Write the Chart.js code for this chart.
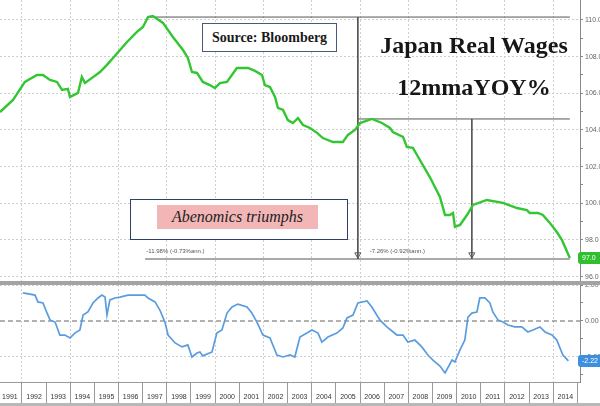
<!DOCTYPE html>
<html>
<head>
<meta charset="utf-8">
<script src="https://cdn.jsdelivr.net/npm/chart.js@4/dist/chart.umd.min.js"></script>
<style>
  body { margin: 0; background: #fff; }
  #wrap { position: relative; width: 600px; height: 406px; overflow: hidden; font-family: "Liberation Serif", serif; }
  canvas { position: absolute; left: 0; }
  #topChart { top: 0; }
  #bottomChart { top: 285px; }
  #sep { position: absolute; left: 0; top: 281px; width: 600px; height: 4px; background: #a3a3a3; }
  #foot { position: absolute; left: 0; top: 403px; width: 600px; height: 3px; background: #b8b8b8; }
  #src { position: absolute; left: 202px; top: 23px; width: 133px; height: 27px; border: 1.5px solid #4b5878; background: #fff;
         font-size: 14px; font-weight: bold; color: #1a1a1a; display: flex; align-items: center; justify-content: center; }
  .title { position: absolute; left: 372px; width: 204px; text-align: center; font-size: 24px; line-height: 24px; font-weight: bold; color: #161616; }
  #abe { position: absolute; left: 130px; top: 199px; width: 216px; height: 39px; border: 1.5px solid #2f4068; background: #fff; }
  #abe span { position: absolute; left: 26px; top: 5px; width: 161px; height: 24px; background: #f3b6b6;
              font-style: italic; font-size: 16px; color: #222; display: flex; align-items: center; justify-content: center; }
</style>
</head>
<body>
<div id="wrap">
  <canvas id="topChart" width="600" height="281"></canvas>
  <div id="sep"></div>
  <canvas id="bottomChart" width="600" height="121"></canvas>
  <div id="foot"></div>
  <div id="src">Source: Bloomberg</div>
  <div class="title" style="top:33px">Japan Real Wages</div>
  <div class="title" style="top:75px">12mmaYOY%</div>
  <div id="abe"><span>Abenomics triumphs</span></div>
</div>
<script>
// real wage index (12m avg)
const wageYears = [1991.09, 1991.63, 1992.12, 1992.62, 1992.87, 1993.16, 1993.45, 1993.66, 1993.90, 1993.99,
  1994.32, 1994.48, 1994.61, 1994.90, 1995.23, 1995.52, 1995.77, 1996.35, 1996.76, 1997.01,
  1997.22, 1997.42, 1997.84, 1998.25, 1998.67, 1998.87, 1999.04, 1999.25, 1999.49, 1999.78,
  1999.99, 2000.20, 2000.49, 2000.90, 2001.36, 2001.65, 2001.94, 2002.06, 2002.27, 2002.48,
  2002.60, 2002.81, 2003.01, 2003.22, 2003.43, 2003.64, 2003.93, 2004.22, 2004.46, 2004.88,
  2005.29, 2005.50, 2005.79, 2006.00, 2006.49, 2006.91, 2007.24, 2007.36, 2007.78, 2007.94,
  2008.19, 2008.48, 2008.89, 2009.31, 2009.52, 2009.72, 2009.85, 2009.93, 2010.14, 2010.43,
  2010.68, 2011.25, 2011.92, 2012.50, 2012.91, 2013.03, 2013.37, 2013.57, 2013.86, 2014.15,
  2014.36, 2014.69];
const wageValues = [104.98, 105.64, 106.62, 107.0, 107.0, 106.73, 106.62, 106.18, 106.24, 105.80,
  106.02, 106.89, 106.56, 106.84, 107.16, 107.55, 107.93, 108.80, 109.35, 109.62,
  110.16, 110.22, 109.84, 109.07, 108.36, 107.93, 107.16, 107.11, 106.62, 106.45,
  106.29, 106.56, 106.62, 107.38, 107.38, 107.22, 107.0, 106.45, 106.34, 105.80,
  105.20, 105.09, 104.54, 104.38, 104.65, 104.27, 104.11, 103.84, 103.56, 103.34,
  103.34, 103.73, 104.0, 104.38, 104.60, 104.38, 104.11, 103.89, 103.62, 103.07,
  103.02, 102.36, 101.43, 100.34, 99.36, 99.36, 99.47, 98.71, 98.82, 99.36,
  99.91, 100.18, 100.02, 99.74, 99.63, 99.47, 99.47, 99.36, 98.93, 98.43,
  98.0, 97.02];

// YoY %
const yoyYears = [1992.04, 1992.54, 1992.66, 1992.87, 1993.04, 1993.16, 1993.37, 1993.57, 1993.78, 1993.99,
  1994.19, 1994.40, 1994.53, 1994.73, 1994.94, 1995.15, 1995.31, 1995.44, 1995.52, 1995.64,
  1995.85, 1996.06, 1996.39, 1996.55, 1996.89, 1997.09, 1997.22, 1997.51, 1997.71, 1997.92,
  1998.05, 1998.34, 1998.63, 1998.87, 1999.04, 1999.25, 1999.37, 1999.49, 1999.87, 2000.07,
  2000.28, 2000.49, 2000.70, 2000.94, 2001.32, 2001.52, 2001.73, 2001.98, 2002.27, 2002.56,
  2002.81, 2003.10, 2003.30, 2003.51, 2003.80, 2004.01, 2004.26, 2004.42, 2004.67, 2005.04,
  2005.29, 2005.46, 2005.71, 2005.91, 2006.29, 2006.49, 2006.82, 2007.11, 2007.53, 2007.78,
  2007.98, 2008.27, 2008.56, 2008.81, 2009.02, 2009.31, 2009.52, 2009.81, 2009.93, 2010.14,
  2010.34, 2010.47, 2010.63, 2010.84, 2010.96, 2011.17, 2011.38, 2011.50, 2011.71, 2011.92,
  2012.12, 2012.41, 2012.70, 2012.95, 2013.16, 2013.45, 2013.66, 2013.95, 2014.15, 2014.40,
  2014.63];
const yoyValues = [1.56, 1.44, 1.06, 1.0, 0.44, 0.06, -0.06, -0.78, -0.78, -0.94,
  -0.67, -0.5, 0.33, 0.5, 1.0, 1.28, 1.44, 1.33, 0.33, 1.17,
  1.28, 1.33, 1.44, 1.44, 1.44, 1.44, 1.28, 1.06, 0.61, -0.06,
  -0.78, -1.22, -1.44, -1.33, -2.0, -1.78, -1.72, -1.94, -1.72, -0.67,
  -0.5, 0.44, 0.78, 0.94, 0.78, 0.44, -0.06, -0.78, -0.94, -1.89,
  -2.0, -1.89, -2.0, -0.89, -0.67, -0.5, -0.67, -1.17, -0.89, -0.67,
  -0.39, 0.17, 0.33, 1.0, 1.11, 0.78, 0.06, -0.33, -0.78, -0.78,
  -1.17, -1.06, -1.44, -1.89, -2.17, -2.5, -2.89, -2.17, -2.28, -1.61,
  -1.06, 0.22, 0.44, 0.5, 1.28, 1.28, 1.0, 0.5, 0.06, -0.06,
  -0.22, -0.33, -0.33, -0.61, -0.5, -0.33, -0.61, -0.78, -1.06, -1.89,
  -2.22];

const yearLabels = [1991, 1992, 1993, 1994, 1995, 1996, 1997, 1998, 1999, 2000, 2001, 2002,
  2003, 2004, 2005, 2006, 2007, 2008, 2009, 2010, 2011, 2012, 2013, 2014];
const gridYears = [1992, 1994, 1996, 1998, 2000, 2002, 2004, 2006, 2008, 2010, 2012, 2014];
const topTicks = [96, 97, 98, 99, 100, 101, 102, 103, 104, 105, 106, 107, 108, 109, 110];
const topTickLabels = [96, 98, 100, 102, 104, 106, 108, 110];
const bottomTicks = [-3, -2, -1, 0, 1, 2];
const bottomTickLabels = [-2, 0, 2];

// drawdown markers
const peakStart = 1997.22, lineEnd = 2014.69, baseStart = 1997.1;
const markerYears = [2005.91, 2010.63];
const peakLevel = 110.16, midLevel = 104.6, baseLevel = 96.96, arrowLevel = 97.2;
const noteTexts = ['-11.98% (-0.73%ann.)', '-7.26% (-0.92%ann.)'];
const noteYears = [1997.15, 2006.4];
const noteLevel = 97.3;

const xMin = 1991.09, xMax = 2015.11;

function pts(xs, ys) { return xs.map((x, i) => ({ x: x, y: ys[i] })); }
function seg(x1, y1, x2, y2) {
  return { data: [{ x: x1, y: y1 }, { x: x2, y: y2 }], borderColor: '#555', borderWidth: 1, pointRadius: 0, fill: false };
}
// keep the plot area full height: no half-label padding on the value axis
function fitY(a) { a.width = 20; a.paddingTop = 0; a.paddingBottom = 0; }

const valueTag = {
  id: 'valueTag',
  afterDatasetsDraw(chart, args, opts) {
    const d = chart.data.datasets[0].data;
    const y = chart.scales.y.getPixelForValue(d[d.length - 1].y);
    const x = chart.chartArea.right - 2;
    const ctx = chart.ctx;
    ctx.save();
    ctx.fillStyle = opts.color;
    ctx.beginPath();
    ctx.roundRect(x, y - 6, 30, 12, 3);
    ctx.fill();
    ctx.fillStyle = '#fff';
    ctx.font = '7px "Liberation Sans"';
    ctx.textBaseline = 'middle';
    ctx.fillText(opts.label, x + 4, y + 0.5);
    ctx.restore();
  }
};

const notes = {
  id: 'notes',
  afterDatasetsDraw(chart) {
    const { ctx, scales: { x, y } } = chart;
    ctx.save();
    ctx.font = '6px "Liberation Sans"';
    ctx.fillStyle = '#555';
    noteTexts.forEach((t, i) => ctx.fillText(t, x.getPixelForValue(noteYears[i]), y.getPixelForValue(noteLevel)));
    ctx.restore();
  }
};

new Chart(document.getElementById('topChart'), {
  type: 'line',
  data: {
    datasets: [
      { data: pts(wageYears, wageValues), borderColor: '#33c633', borderWidth: 2.4, pointRadius: 0, tension: 0 },
      seg(peakStart, peakLevel, lineEnd, peakLevel),
      seg(markerYears[0], peakLevel, markerYears[0], baseLevel),
      seg(markerYears[0], midLevel, lineEnd, midLevel),
      seg(markerYears[1], midLevel, markerYears[1], baseLevel),
      seg(baseStart, baseLevel, lineEnd, baseLevel),
      { data: markerYears.map(x => ({ x: x, y: arrowLevel })), showLine: false, pointStyle: 'triangle', rotation: 180,
        pointRadius: 3.5, pointBackgroundColor: '#fff', pointBorderColor: '#555', pointBorderWidth: 1 }
    ]
  },
  options: {
    responsive: false,
    animation: false,
    layout: { padding: 0, autoPadding: false },
    plugins: { legend: { display: false }, tooltip: { enabled: false }, valueTag: { color: '#2fbf2f', label: wageValues[wageValues.length - 1].toFixed(1) } },
    scales: {
      x: {
        type: 'linear', min: xMin, max: xMax,
        afterBuildTicks: a => { a.ticks = gridYears.map(v => ({ value: v })); },
        afterFit: a => { a.height = 0; a.paddingLeft = 0; a.paddingRight = 0; },
        ticks: { display: false },
        grid: { color: '#cfcfcf', drawTicks: false },
        border: { display: false, dash: [2, 2] }
      },
      y: {
        position: 'right', min: 95.76, max: 111.09,
        afterBuildTicks: a => { a.ticks = topTicks.map(v => ({ value: v })); },
        afterFit: fitY,
        ticks: { callback: v => topTickLabels.includes(v) ? v.toFixed(1) : '', font: { size: 7, family: 'Liberation Sans' }, color: '#666', padding: 2 },
        grid: { color: c => (c.tick && topTickLabels.includes(c.tick.value)) ? '#cfcfcf' : 'rgba(0,0,0,0)', tickColor: '#888', tickLength: 3 },
        border: { color: '#8a8a8a', dash: [2, 2] }
      }
    }
  },
  plugins: [valueTag, notes]
});

new Chart(document.getElementById('bottomChart'), {
  type: 'line',
  data: {
    datasets: [
      { data: pts(yoyYears, yoyValues), borderColor: '#5a9ddf', borderWidth: 1.7, pointRadius: 0, tension: 0 },
      { data: [{ x: xMin, y: 0 }, { x: xMax, y: 0 }], borderColor: '#666', borderWidth: 1.2, borderDash: [5, 3], pointRadius: 0 }
    ]
  },
  options: {
    responsive: false,
    animation: false,
    layout: { padding: 0, autoPadding: false },
    plugins: { legend: { display: false }, tooltip: { enabled: false }, valueTag: { color: '#3d8fe0', label: yoyValues[yoyValues.length - 1].toFixed(2) } },
    scales: {
      x: {
        type: 'linear', min: xMin, max: xMax,
        afterBuildTicks: a => { a.ticks = yearLabels.map(v => ({ value: v + 0.5 })); },
        afterFit: a => { a.height = 24; a.paddingLeft = 0; a.paddingRight = 0; },
        ticks: { autoSkip: false, maxRotation: 0, minRotation: 0, padding: -10, font: { size: 7, family: 'Liberation Sans' }, color: '#333',
                 callback: (v, i) => String(yearLabels[i]) },
        grid: { offset: true, color: c => ((1991 + c.index) % 2 === 0 ? '#cfcfcf' : 'rgba(0,0,0,0)'), tickColor: '#9a9a9a', tickLength: 21 },
        border: { color: '#9a9a9a', dash: [2, 2] }
      },
      y: {
        position: 'right', min: -3.39, max: 2.0,
        afterBuildTicks: a => { a.ticks = bottomTicks.map(v => ({ value: v })); },
        afterFit: fitY,
        ticks: { callback: v => bottomTickLabels.includes(v) ? v.toFixed(2) : '', font: { size: 7, family: 'Liberation Sans' }, color: '#666', padding: 2 },
        grid: { color: c => (c.tick && Math.abs(c.tick.value) === 2) ? '#cfcfcf' : 'rgba(0,0,0,0)', tickColor: '#888', tickLength: 3 },
        border: { color: '#8a8a8a', dash: [2, 2] }
      }
    }
  },
  plugins: [valueTag]
});
</script>
</body>
</html>
